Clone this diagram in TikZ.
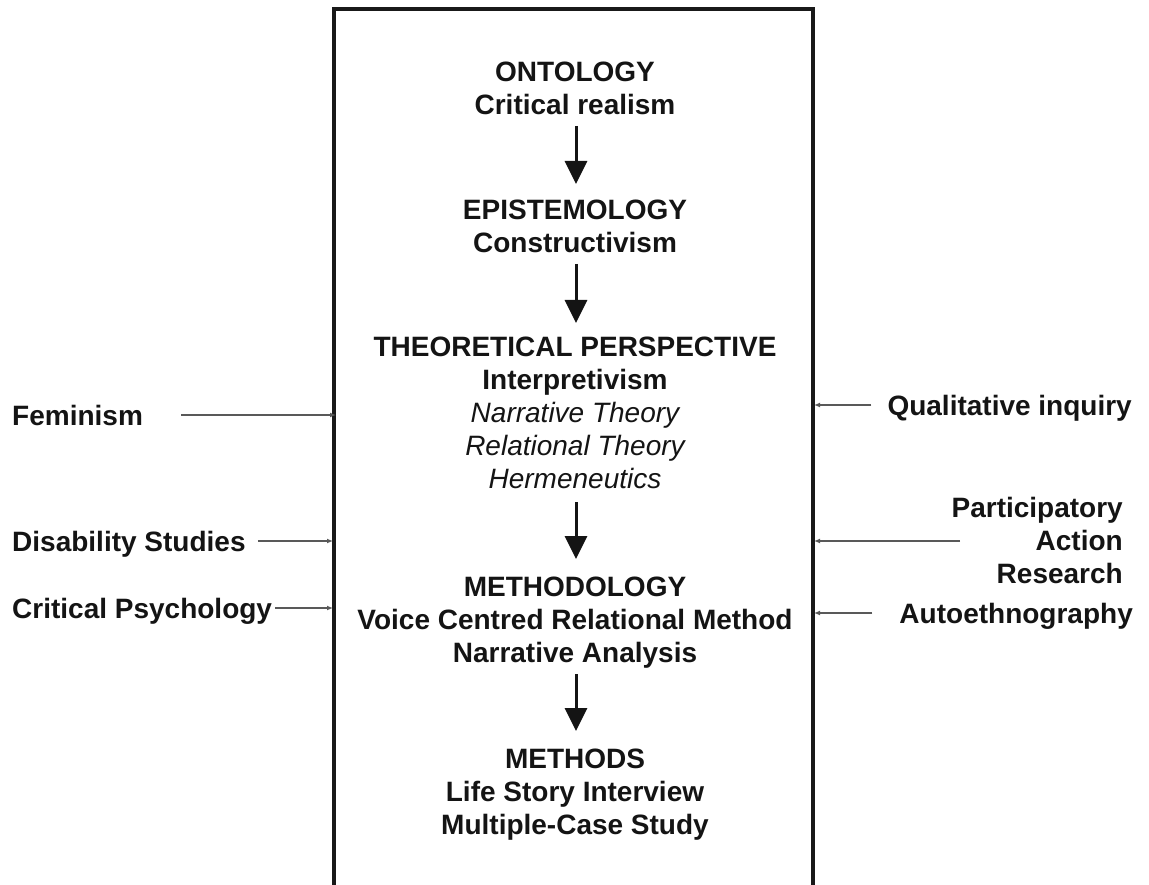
\documentclass[tikz,border=0pt]{standalone}
\usepackage{fontspec}
\setmainfont{Liberation Sans}
\usetikzlibrary{arrows.meta}

\tikzset{
  txt/.style={inner sep=0pt, font=\fontsize{28}{33}\selectfont\bfseries, text=black!92},
  stack/.style={txt, align=center, anchor=north},
  side/.style={txt, text height=20pt, text depth=0pt},
  flow/.style={line width=3pt, black!92, -{Triangle[length=23pt,width=22pt]}},
  feed/.style={line width=1.4pt, black!65, -{Latex[length=6pt,width=5pt]}},
  frame/.style={line width=3.5pt, black!90}
}

\begin{document}
\begin{tikzpicture}[x=1pt,y=-1pt]
\useasboundingbox (0,0) rectangle (1149,885);

% open-bottomed frame around the research layers
\coordinate (fbl) at (334,885);
\coordinate (ftl) at (334,9);
\coordinate (ftr) at (813,9);
\coordinate (fbr) at (813,885);
\draw[frame] (fbl) -- (ftl) -- (ftr) -- (fbr);

% research layers
\node[stack] (ont) at (575,62) {ONTOLOGY\\Critical realism};
\node[stack] (epi) at (575,200) {EPISTEMOLOGY\\Constructivism};
\node[stack] (the) at (575,337) {THEORETICAL PERSPECTIVE\\Interpretivism\\
  {\mdseries\itshape Narrative Theory}\\{\mdseries\itshape Relational Theory}\\{\mdseries\itshape Hermeneutics}};
\node[stack] (met) at (575,577) {METHODOLOGY\\Voice Centred Relational Method\\Narrative Analysis};
\node[stack] (mts) at (575,749) {METHODS\\Life Story Interview\\Multiple-Case Study};

% downward links between layers
\coordinate (a1s) at (576,126); \coordinate (a1e) at (576,184);
\coordinate (a2s) at (576,264); \coordinate (a2e) at (576,323);
\coordinate (a3s) at (576,502); \coordinate (a3e) at (576,559);
\coordinate (a4s) at (576,674); \coordinate (a4e) at (576,731);
\draw[flow] (a1s) -- (a1e);
\draw[flow] (a2s) -- (a2e);
\draw[flow] (a3s) -- (a3e);
\draw[flow] (a4s) -- (a4e);

% influences from the left
\node[side, anchor=west] (fem) at (12,415) {Feminism};
\node[side, anchor=west] (dis) at (12,541) {Disability Studies};
\node[side, anchor=west] (cps) at (12,608) {Critical Psychology};
\coordinate (femin) at (336,415);
\coordinate (disin) at (333,541);
\coordinate (cpsin) at (333,608);
\draw[feed] ([xshift=38pt]fem.east) -- (femin);
\draw[feed] ([xshift=12pt]dis.east) -- (disin);
\draw[feed] ([xshift=3pt]cps.east) -- (cpsin);

% influences from the right
\node[side, anchor=east] (qual) at (1132,405) {Qualitative inquiry};
\node[txt, align=right, anchor=north east] (par) at (1123,497) {Participatory\\Action\\Research};
\node[side, anchor=east] (aut) at (1133,613) {Autoethnography};
\coordinate (qualin) at (814,405);
\coordinate (parout) at (960,541);
\coordinate (parin) at (814,541);
\coordinate (autin) at (814,613);
\draw[feed] ([xshift=-16pt]qual.west) -- (qualin);
\draw[feed] (parout) -- (parin);
\draw[feed] ([xshift=-27pt]aut.west) -- (autin);
\end{tikzpicture}
\end{document}
